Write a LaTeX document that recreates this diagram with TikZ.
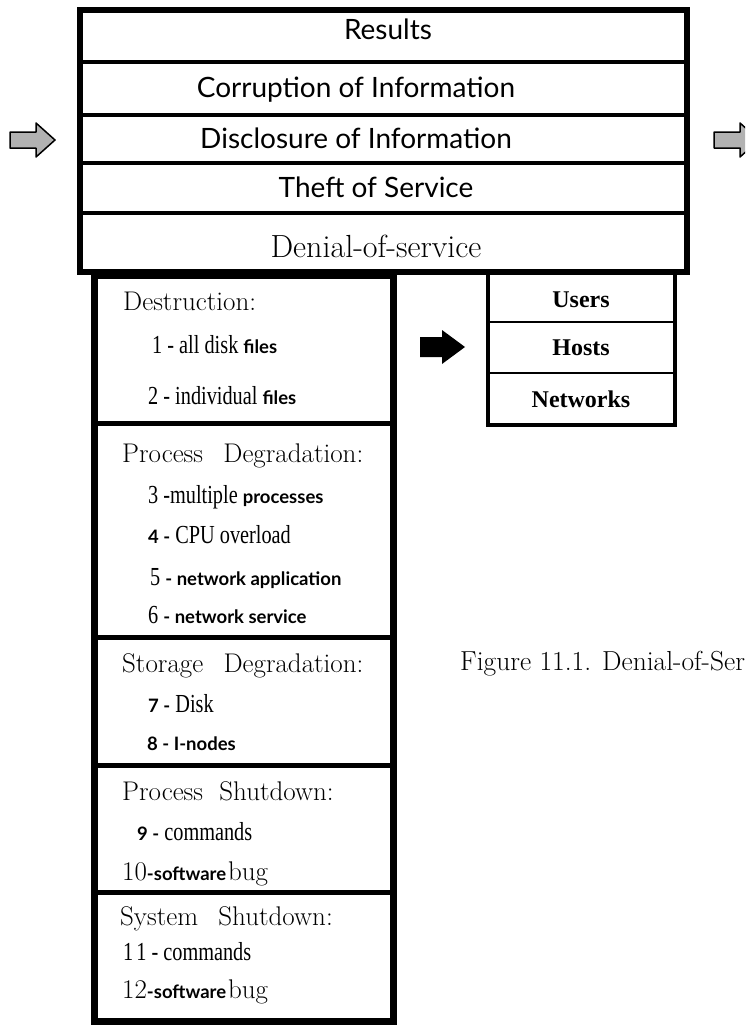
\documentclass[tikz,border=0pt]{standalone}
\usepackage{fontspec}
\setmainfont{Liberation Serif}
\newfontfamily\optfont{Lato}
\newfontfamily\itemfont[FakeStretch=0.78]{Liberation Serif}
\newcommand\lmfont{\fontfamily{lmr}\selectfont}
\newcommand\boldword[1]{{\optfont\bfseries\fontsize{18.5}{22}\selectfont #1}}
\usetikzlibrary{math}

\begin{document}
\begin{tikzpicture}[x=1pt, y=-1pt,
  rowtext/.style={anchor=base, font=\optfont\fontsize{28}{32}\selectfont, inner sep=0pt},
  headtext/.style={anchor=base west, font=\lmfont\fontsize{27}{32}\selectfont, inner sep=0pt},
  itemtext/.style={anchor=base west, font=\itemfont\fontsize{26}{30}\selectfont, inner sep=0pt},
  hosttext/.style={anchor=base, font=\bfseries\fontsize{24}{28}\selectfont, inner sep=0pt},
  grayarrow/.style={draw=black, fill=gray!60, line width=1.5pt, line join=round},
  blackarrow/.style={fill=black}]
\tikzmath{
\W=745;
\H=1025;
}
\useasboundingbox (0,0) rectangle (\W,\H);
\clip (0,0) rectangle (\W,\H);

% results box
\draw[line width=6] (80,10) rectangle (687,272);
\foreach \y in {62,115,163,213} \draw[line width=4] (80,\y) -- (687,\y);
\node[rowtext] (results) at (388,40) {Results};
\node[rowtext] (corruption) at (356,97) {Corruption of Information};
\node[rowtext] (disclosure) at (356,148) {Disclosure of Information};
\node[rowtext] (theft) at (376,197) {Theft of Service};
\node[anchor=base, inner sep=0pt, font=\lmfont\fontsize{32}{36}\selectfont] (denial) at (376,257) {Denial-of-service};

% arrows in and out
\foreach \ax in {10,714}
  \filldraw[grayarrow] (\ax,132) -- ++(26,0) -- ++(0,-9) -- ++(19,17) -- ++(-19,17) -- ++(0,-9) -- ++(-26,0) -- cycle;

% targets
\draw[line width=4] (488,272) rectangle (675,425);
\foreach \y in {322,373} \draw[line width=2.5] (488,\y) -- (675,\y);
\node[hosttext] (users) at (581,307) {Users};
\node[hosttext] (hosts) at (581,355) {Hosts};
\node[hosttext] (networks) at (581,407) {Networks};
\fill[blackarrow] (420,337) -- ++(22,0) -- ++(0,-7) -- ++(23,17) -- ++(-23,17) -- ++(0,-7) -- ++(-22,0) -- cycle;

% denial-of-service methods
\draw[line width=7] (94,275) rectangle (393,1021);
\foreach \y in {423,637,765,892} \draw[line width=5] (94,\y) -- (393,\y);

\node[headtext] (destruction) at (123,310) {Destruction:};
\node[itemtext] (m1) at (152,353) {1 - all disk \boldword{files}};
\node[itemtext] (m2) at (148,404) {2 - individual \boldword{files}};

\node[headtext] (procdeg) at (122,462) {Process\hspace{0.45em} Degradation:};
\node[itemtext] (m3) at (148,503) {3 -multiple \boldword{processes}};
\node[itemtext] (m4) at (148,543) {\boldword{4 -} CPU overload};
\node[itemtext] (m5) at (150,585) {5 \boldword{- network application}};
\node[itemtext] (m6) at (148,623) {6 \boldword{- network service}};

\node[headtext] (storedeg) at (122,672) {Storage\hspace{0.45em} Degradation:};
\node[itemtext] (m7) at (148,712) {\boldword{7 -} Disk};
\node[itemtext] (m8) at (147,750) {\boldword{8 - I-nodes}};

\node[headtext] (procshut) at (122,800) {Process\hspace{0.3em} Shutdown:};
\node[itemtext] (m9) at (137,840) {\boldword{9 -} commands};
\node[itemtext] (m10) at (122,880) {{\lmfont\fontsize{27}{30}\selectfont 10}\boldword{-software}\hspace{2pt}{\lmfont\fontsize{27}{30}\selectfont bug}};

\node[headtext] (sysshut) at (120,925) {System\hspace{0.45em} Shutdown:};
\node[itemtext] (m11) at (123,960) {1\kern3pt1 - commands};
\node[itemtext] (m12) at (122,998) {{\lmfont\fontsize{27}{30}\selectfont 12}\boldword{-software}\hspace{2pt}{\lmfont\fontsize{27}{30}\selectfont bug}};

\node[anchor=base west, inner sep=0pt, font=\lmfont\fontsize{27.5}{32}\selectfont] (caption) at (460,670) {Figure 11.1. Denial-of-Ser};
\end{tikzpicture}
\end{document}
